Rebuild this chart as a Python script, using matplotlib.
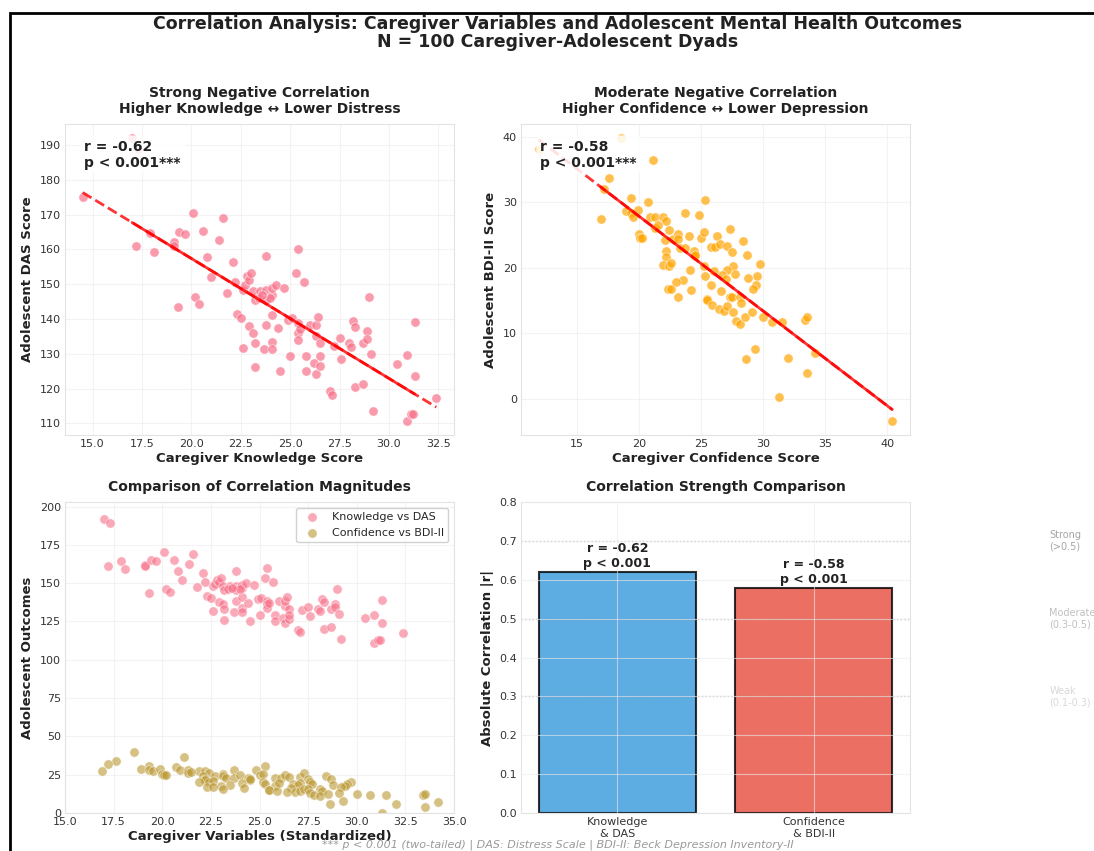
import numpy as np
import matplotlib
matplotlib.use("Agg")
import matplotlib.pyplot as plt
import matplotlib.patches as mpatches
import seaborn as sns

# caregiver knowledge vs adolescent DAS
knowledge = [14.5, 17.0, 17.3, 17.2, 17.9, 18.1, 19.1, 19.1, 19.4, 19.7,
             19.3, 20.1, 20.2, 20.4, 20.6, 20.8, 21.0, 21.4, 21.6, 21.8,
             22.1, 22.2, 22.3, 22.5, 22.6, 22.6, 22.7, 22.8, 22.9, 23.0,
             22.9, 23.1, 23.2, 23.2, 23.1, 23.2, 23.5, 23.4, 23.7, 23.8,
             23.8, 23.8, 23.8, 24.1, 24.1, 24.1, 24.1, 24.1, 24.3, 24.4,
             24.5, 24.7, 24.9, 25.0, 25.1, 25.3, 25.4, 25.4, 25.4, 25.4,
             25.7, 25.8, 25.8, 26.0, 26.2, 26.3, 26.3, 26.3, 26.4, 26.5,
             26.5, 26.5, 27.0, 27.1, 27.2, 27.5, 27.6, 28.0, 28.1, 28.2,
             28.3, 28.3, 28.7, 28.7, 28.9, 28.9, 29.0, 29.1, 29.2, 30.4,
             30.9, 30.9, 31.1, 31.2, 31.3, 31.3, 32.4, 24.0, 25.5, 23.6]
das = [175.0, 192.0, 189.0, 160.9, 164.7, 159.3, 162.0, 161.0, 165.0, 164.3,
       143.5, 170.4, 146.4, 144.2, 165.2, 157.8, 152.0, 162.6, 168.9, 147.6,
       156.5, 150.7, 141.4, 140.3, 148.3, 131.7, 149.8, 152.4, 151.1, 153.2,
       138.0, 136.1, 133.1, 126.3, 148.1, 145.4, 148.0, 145.9, 131.4, 148.3,
       158.0, 145.4, 138.4, 146.8, 148.9, 141.1, 133.5, 131.4, 149.9, 137.4,
       125.1, 148.9, 139.7, 129.4, 140.4, 153.1, 160.2, 138.7, 136.1, 134.0,
       150.7, 129.4, 125.1, 138.3, 127.2, 135.2, 124.1, 138.3, 140.7, 133.0,
       126.5, 129.3, 119.4, 118.2, 132.3, 134.5, 128.4, 133.1, 131.9, 139.5,
       137.7, 120.4, 133.1, 121.2, 136.4, 134.2, 146.4, 130.0, 113.4, 127.1,
       129.5, 110.7, 112.8, 112.7, 123.7, 139.2, 117.4, 146.0, 137.0, 147.0]

# caregiver confidence vs adolescent BDI-II
confidence = [11.9, 18.55, 21.1, 17.6, 17.2, 16.9, 19.3, 20.7, 18.9, 19.3,
              19.5, 19.9, 20.9, 21.3, 21.9, 22.2, 21.3, 22.4, 23.7, 24.8,
              25.3, 20.0, 20.1, 20.2, 22.1, 22.7, 23.1, 23.1, 23.3, 23.7,
              24.0, 22.2, 22.2, 21.9, 22.4, 22.6, 24.4, 24.5, 24.1, 25.0,
              25.2, 25.2, 25.3, 25.8, 26.1, 26.3, 26.5, 27.1, 27.3, 27.5,
              28.4, 28.7, 29.7, 29.5, 28.8, 29.4, 29.2, 27.6, 27.7, 27.1,
              26.7, 27.0, 26.6, 25.8, 23.5, 23.0, 24.2, 22.3, 22.6, 23.1,
              25.5, 25.5, 25.9, 26.4, 26.8, 27.1, 27.3, 27.5, 28.1, 28.2,
              27.6, 27.8, 28.1, 28.5, 29.1, 30.0, 30.7, 31.5, 33.4, 33.5,
              29.3, 28.6, 32.0, 33.5, 34.2, 31.3, 40.4, 24.5, 26.0, 21.5]
bdi = [38.1, 39.8, 36.4, 33.7, 32.0, 27.5, 30.7, 30.1, 28.6, 28.3,
       27.7, 28.8, 27.8, 27.8, 27.7, 27.2, 26.0, 25.8, 28.3, 28.0,
       30.4, 25.2, 24.5, 24.5, 24.2, 24.4, 25.2, 24.4, 23.0, 23.0,
       24.9, 22.5, 21.7, 20.4, 20.3, 20.7, 22.6, 21.8, 19.7, 24.6,
       25.4, 20.2, 18.8, 23.1, 23.1, 24.9, 23.6, 23.3, 25.9, 22.4,
       24.1, 21.9, 20.5, 18.8, 18.5, 17.4, 16.8, 20.2, 19.1, 19.6,
       18.9, 18.2, 16.5, 17.3, 18.1, 17.8, 16.6, 16.8, 16.8, 15.5,
       15.2, 15.0, 14.3, 13.7, 13.4, 14.1, 15.5, 15.5, 15.6, 14.6,
       13.2, 11.9, 11.4, 12.4, 13.2, 12.5, 11.7, 11.7, 12.0, 12.4,
       7.6, 6.1, 6.2, 3.9, 7.0, 0.2, -3.4, 22.0, 19.5, 26.5]

r_values = [-0.62, -0.58]
bar_labels = ['Knowledge\n& DAS', 'Confidence\n& BDI-II']
strength_levels = [0.7, 0.5, 0.3]
strength_names = ['Strong\n(>0.5)', 'Moderate\n(0.3-0.5)', 'Weak\n(0.1-0.3)']

sns.set_style("whitegrid")
plt.rcParams['font.family'] = ['DejaVu Sans']
plt.rcParams['axes.edgecolor'] = '#e3e3e3'
plt.rcParams['grid.color'] = '#ebebeb'

fig = plt.figure(figsize=(10.94, 8.51), dpi=100)
W, H = 1094, 851

def add_ax(x0, y0, x1, y1):
    return fig.add_axes([x0 / W, 1 - y1 / H, (x1 - x0) / W, (y1 - y0) / H])

ax1 = add_ax(65, 124, 454, 435)
ax2 = add_ax(521, 124, 910, 435)
ax3 = add_ax(65, 502, 454, 813)
ax4 = add_ax(521, 502, 910, 813)

pink = '#f77189'
gold = '#bb9832'
dark = '#222222'

def reg_panel(ax, x, y, color, r, solid_lo, solid_hi):
    x = np.array(x)
    y = np.array(y)
    ax.scatter(x, y, s=45, color=color, alpha=0.7, edgecolor='white', linewidth=0.5, zorder=2)
    slope, icpt = np.polyfit(x, y, 1)
    xs = np.linspace(x.min(), x.max(), 100)
    ax.plot(xs, slope * xs + icpt, 'r--', lw=2, alpha=0.8, zorder=3)
    xs2 = np.linspace(solid_lo, solid_hi, 100)
    ax.plot(xs2, slope * xs2 + icpt, color='red', lw=2, alpha=0.8, zorder=3)
    ax.text(0.05, 0.95, f'r = {r:.2f}\np < 0.001***', transform=ax.transAxes,
            fontsize=10, fontweight='bold', va='top', ha='left', color=dark,
            bbox=dict(boxstyle='round,pad=0.3', facecolor='white', edgecolor='none', alpha=0.85),
            zorder=5)
    ax.tick_params(labelsize=8, colors='#333333', length=0, pad=3)
    ax.grid(True, alpha=0.6)

def label_axes(ax, title, xlabel, ylabel):
    ax.set_title(title, fontsize=10, fontweight='bold', color=dark, pad=8)
    if xlabel:
        ax.set_xlabel(xlabel, fontsize=9.5, fontweight='bold', color=dark, labelpad=2)
    ax.set_ylabel(ylabel, fontsize=9.5, fontweight='bold', color=dark, labelpad=4)

xs_k = sorted(knowledge)
xs_c = sorted(confidence)
reg_panel(ax1, knowledge, das, pink, r_values[0], xs_k[1], xs_k[-2])
reg_panel(ax2, confidence, bdi, '#FFA500', r_values[1], xs_c[1], xs_c[-1])

label_axes(ax1, 'Strong Negative Correlation\nHigher Knowledge \u2194 Lower Distress',
           'Caregiver Knowledge Score', 'Adolescent DAS Score')
label_axes(ax2, 'Moderate Negative Correlation\nHigher Confidence \u2194 Lower Depression',
           'Caregiver Confidence Score', 'Adolescent BDI-II Score')
ax1.set_xticks(np.arange(15, 33, 2.5))
ax1.set_yticks(np.arange(110, 191, 10))
ax2.set_xticks(np.arange(15, 41, 5))
ax2.set_yticks(np.arange(0, 41, 10))

# comparison scatter
ax3.scatter(knowledge, das, s=45, color=pink, alpha=0.6, edgecolor='white', linewidth=0.5,
            label='Knowledge vs DAS')
ax3.scatter(confidence, bdi, s=45, color=gold, alpha=0.6, edgecolor='white', linewidth=0.5,
            label='Confidence vs BDI-II')
ax3.set_xlim(15, 35)
ax3.set_ylim(0, 203)
ax3.set_xticks(np.arange(15, 35.1, 2.5))
ax3.set_yticks(np.arange(0, 201, 25))
ax3.tick_params(labelsize=8, colors='#333333', length=0, pad=3)
ax3.grid(True, alpha=0.6)
label_axes(ax3, 'Comparison of Correlation Magnitudes',
           'Caregiver Variables (Standardized)', 'Adolescent Outcomes')
ax3.legend(loc='upper right', fontsize=8, frameon=True, framealpha=0.9)

# bar chart of |r|
abs_r = [abs(v) for v in r_values]
bars = ax4.bar(range(2), abs_r, width=0.8, color=['#3498db', '#e74c3c'], alpha=0.8,
               edgecolor='black', linewidth=1.5)
for b, r in zip(bars, r_values):
    ax4.text(b.get_x() + b.get_width() / 2, b.get_height() + 0.005,
             f'r = {r:.2f}\np < 0.001', ha='center', va='bottom', fontsize=9,
             fontweight='bold', color=dark)
for lvl, name, a in zip(strength_levels, strength_names, [0.7, 0.5, 0.3]):
    ax4.axhline(lvl, color='gray', linestyle=':', alpha=0.5, lw=1)
    ax4.text(2.2, lvl, name, fontsize=7, va='center', ha='left', color='gray', alpha=a)
ax4.set_ylim(0, 0.8)
ax4.set_xticks(range(2))
ax4.set_xticklabels(bar_labels)
ax4.set_yticks(np.arange(0, 0.81, 0.1))
ax4.tick_params(labelsize=8, colors='#333333', length=0, pad=3)
ax4.set_axisbelow(False)
ax4.grid(True, alpha=0.6)
label_axes(ax4, 'Correlation Strength Comparison', None, 'Absolute Correlation |r|')

fig.text(0.51, 0.961, 'Correlation Analysis: Caregiver Variables and Adolescent Mental Health Outcomes\n'
         'N = 100 Caregiver-Adolescent Dyads', ha='center', va='center', fontsize=12.5,
         fontweight='bold', color=dark, linespacing=1.0)
fig.text(0.51, 0.007, '*** p < 0.001 (two-tailed) | DAS: Distress Scale | BDI-II: Beck Depression Inventory-II',
         ha='center', va='center', fontsize=8, style='italic', color='gray', alpha=0.8)

# figure frame (only top and left edges fall inside the image)
fig.patches.append(mpatches.Rectangle((10 / W, -0.2), 1.2, 1.2 - 13 / H,
                                      transform=fig.transFigure, fill=False,
                                      edgecolor='black', linewidth=2, zorder=10))

fig.savefig('out.png', dpi=100)
